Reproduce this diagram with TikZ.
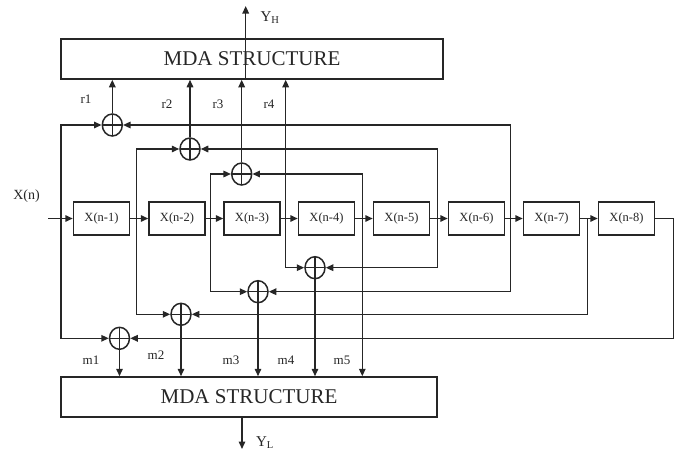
\documentclass[tikz,border=0pt]{standalone}
\usepackage{fontspec}
\setmainfont{Liberation Serif}
\usetikzlibrary{shapes.geometric,arrows.meta}
\definecolor{ink}{HTML}{262626}
\begin{document}
\begin{tikzpicture}[x=1pt,y=-1pt,
  line width=1.5pt, draw=ink, text=ink,
  arr/.style={-{Triangle[length=7.5pt,width=6.5pt]}},
  mda/.style={draw, rectangle, inner sep=0pt, font=\fontsize{21}{21}\selectfont},
  delay/.style={draw, rectangle, minimum width=56pt, minimum height=33pt, inner sep=0pt, font=\fontsize{12.5}{12.5}\selectfont},
  adder/.style={draw, ellipse, minimum width=20pt, minimum height=22pt, inner sep=0pt,
    path picture={\draw[line width=1.2pt] (path picture bounding box.north) -- (path picture bounding box.south)
      (path picture bounding box.west) -- (path picture bounding box.east);}},
  lab/.style={inner sep=0pt, font=\fontsize{13}{13}\selectfont}]
\useasboundingbox (0,0) rectangle (678,458);
% MDA boxes
\node[mda, minimum width=382pt, minimum height=40pt] (top) at (252,59) {MDA STRUCTURE};
\node[mda, minimum width=376pt, minimum height=40pt] (bot) at (249,397) {MDA STRUCTURE};
% delay line
\foreach \i/\x in {1/101.5,2/177,3/252,4/326.5,5/401.5,6/476.5,7/551.5,8/626.5}{
  \node[delay] (d\i) at (\x,218.5) {X(n-\i)};
}
\coordinate (xin) at (48,218.5);
\coordinate (t1) at (61,218.5);
\coordinate (t2) at (136.7,218.5);
\coordinate (t3) at (210.7,218.5);
\coordinate (t4) at (285.7,218.5);
\coordinate (t5) at (362.3,218.5);
\coordinate (t6) at (437.3,218.5);
\coordinate (t7) at (510.7,218.5);
\coordinate (t8) at (587.7,218.5);
\coordinate (c9) at (673.3,218.5);
% adders
\node[adder] (A1) at (112.3,125) {};
\node[adder] (A2) at (190,149) {};
\node[adder] (A3) at (241.7,174) {};
\node[adder] (B1) at (119.5,338.3) {};
\node[adder] (B2) at (181,314.3) {};
\node[adder] (B3) at (258,291.7) {};
\node[adder] (B4) at (315,267.7) {};
% chain
\draw[arr] (xin) -- (d1);
\foreach \i/\j in {1/2,2/3,3/4,4/5,5/6,6/7,7/8}{\draw[arr] (d\i) -- (d\j);}
\draw[arr] (d8.east) -- (c9) |- (B1);
% taps
\draw[arr] (t1) |- (A1);
\draw[arr] (t1) |- (B1);
\draw[arr] (t2) |- (A2);
\draw[arr] (t2) |- (B2);
\draw[arr] (t3) |- (A3);
\draw[arr] (t3) |- (B3);
\draw[arr] (t4) -- (t4 |- top.south);
\draw[arr] (t4) |- (B4);
\draw[arr] (t5) |- (A3);
\draw[arr] (t5) -- (t5 |- bot.north);
\draw[arr] (t6) |- (A2);
\draw[arr] (t6) |- (B4);
\draw[arr] (t7) |- (A1);
\draw[arr] (t7) |- (B3);
\draw[arr] (t8) |- (B2);
% adder outputs
\foreach \a in {A1,A2,A3}{\draw[arr] (\a.north) -- (\a.north |- top.south);}
\foreach \b in {B1,B2,B3,B4}{\draw[arr] (\b.south) -- (\b.south |- bot.north);}
% outputs of MDA
\coordinate (yh) at (245.7,6);
\coordinate (yl) at (242,449);
\draw[arr] (top.south -| yh) -- (yh);
\draw[arr] (bot.south -| yl) -- (yl);
% labels
\node[lab, font=\fontsize{15}{15}\selectfont] (lyh) at (270,18) {Y\textsubscript{H}};
\node[lab, font=\fontsize{15}{15}\selectfont] (lyl) at (265,443) {Y\textsubscript{L}};
\node[lab, font=\fontsize{14}{14}\selectfont] (lxn) at (26.5,196) {X(n)};
\node[lab] (lr1) at (86,99) {r1};
\node[lab] (lr2) at (167,104) {r2};
\node[lab] (lr3) at (218,104) {r3};
\node[lab] (lr4) at (269,104) {r4};
\node[lab] (lm1) at (91,360) {m1};
\node[lab] (lm2) at (156,355) {m2};
\node[lab] (lm3) at (231,360) {m3};
\node[lab] (lm4) at (286,360) {m4};
\node[lab] (lm5) at (342,360) {m5};
\end{tikzpicture}
\end{document}
